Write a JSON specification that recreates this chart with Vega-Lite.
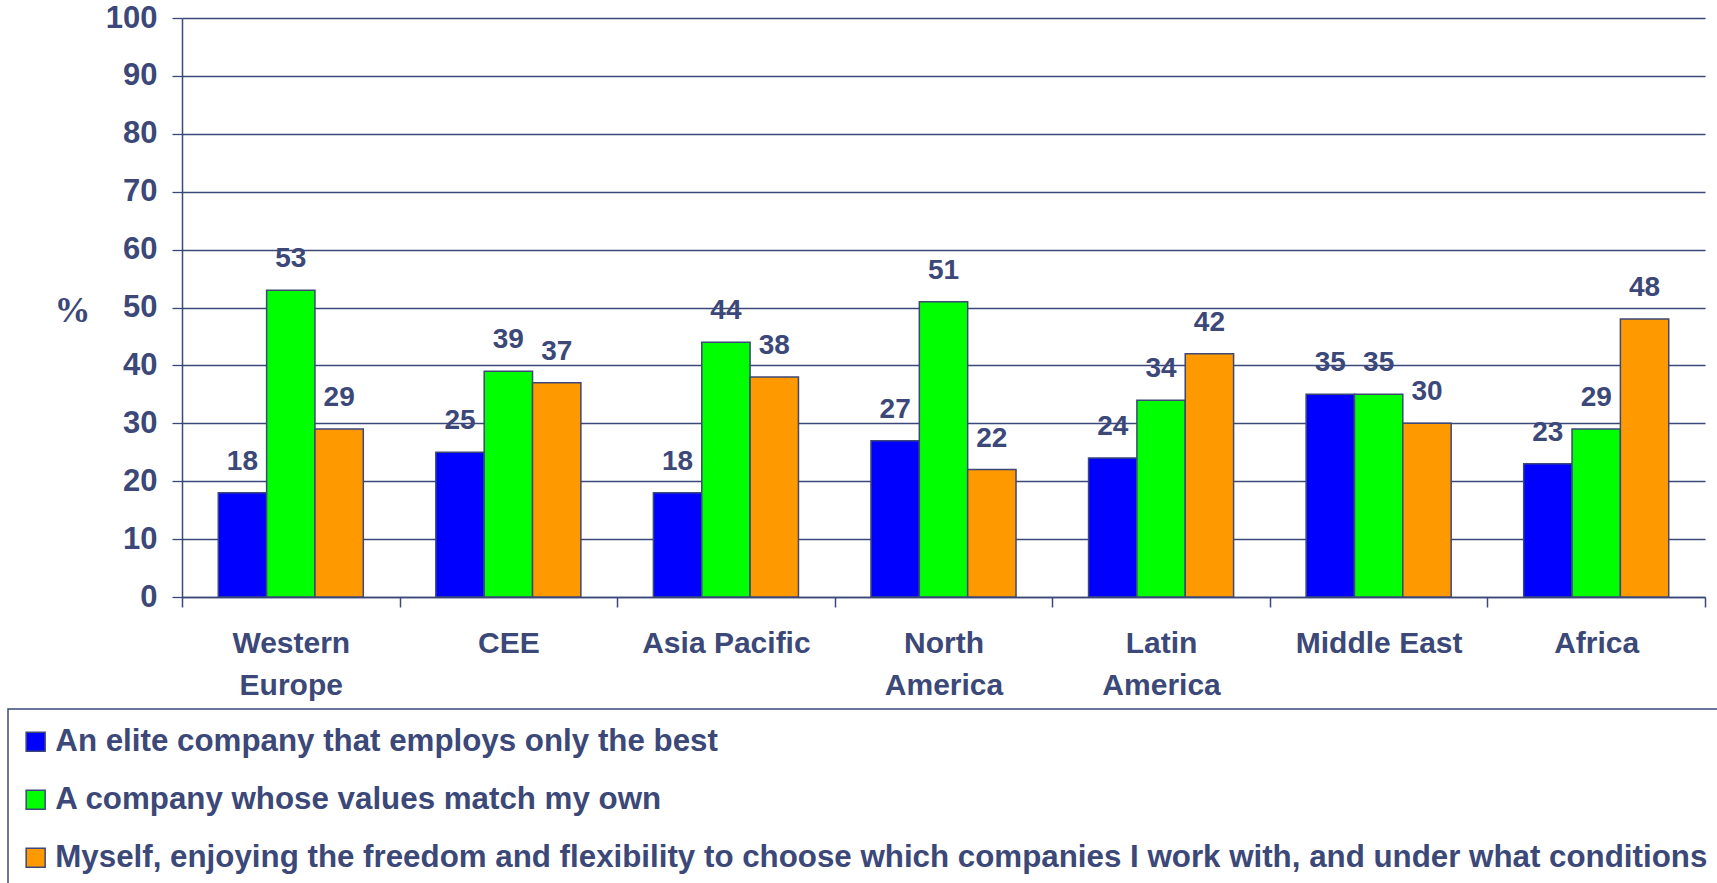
{
  "$schema": "https://vega.github.io/schema/vega-lite/v6.json",
  "autosize": "none",
  "width": 1523,
  "height": 579,
  "padding": {"left": 182, "top": 18, "right": 12, "bottom": 286},
  "background": "white",
  "config": {
    "view": {"stroke": null},
    "font": "Liberation Sans",
    "legend": {"strokeWidth": 1.5}
  },
  "data": {
    "values": [
      {"region": "Western Europe", "series": "An elite company that employs only the best", "value": 18},
      {"region": "Western Europe", "series": "A company whose values match my own", "value": 53},
      {"region": "Western Europe", "series": "Myself, enjoying the freedom and flexibility to choose which companies I work with, and under what conditions", "value": 29},
      {"region": "CEE", "series": "An elite company that employs only the best", "value": 25},
      {"region": "CEE", "series": "A company whose values match my own", "value": 39},
      {"region": "CEE", "series": "Myself, enjoying the freedom and flexibility to choose which companies I work with, and under what conditions", "value": 37},
      {"region": "Asia Pacific", "series": "An elite company that employs only the best", "value": 18},
      {"region": "Asia Pacific", "series": "A company whose values match my own", "value": 44},
      {"region": "Asia Pacific", "series": "Myself, enjoying the freedom and flexibility to choose which companies I work with, and under what conditions", "value": 38},
      {"region": "North America", "series": "An elite company that employs only the best", "value": 27},
      {"region": "North America", "series": "A company whose values match my own", "value": 51},
      {"region": "North America", "series": "Myself, enjoying the freedom and flexibility to choose which companies I work with, and under what conditions", "value": 22},
      {"region": "Latin America", "series": "An elite company that employs only the best", "value": 24},
      {"region": "Latin America", "series": "A company whose values match my own", "value": 34},
      {"region": "Latin America", "series": "Myself, enjoying the freedom and flexibility to choose which companies I work with, and under what conditions", "value": 42},
      {"region": "Middle East", "series": "An elite company that employs only the best", "value": 35},
      {"region": "Middle East", "series": "A company whose values match my own", "value": 35},
      {"region": "Middle East", "series": "Myself, enjoying the freedom and flexibility to choose which companies I work with, and under what conditions", "value": 30},
      {"region": "Africa", "series": "An elite company that employs only the best", "value": 23},
      {"region": "Africa", "series": "A company whose values match my own", "value": 29},
      {"region": "Africa", "series": "Myself, enjoying the freedom and flexibility to choose which companies I work with, and under what conditions", "value": 48}
    ]
  },
  "encoding": {
    "x": {
      "field": "region",
      "type": "nominal",
      "sort": null,
      "scale": {"paddingInner": 0, "paddingOuter": 0},
      "axis": {
        "title": null,
        "labelAngle": 0,
        "tickBand": "extent",
        "tickSize": 10,
        "tickColor": "#3b4878",
        "tickWidth": 1.5,
        "domainColor": "#3b4878",
        "domainWidth": 1.5,
        "labelFont": "Liberation Sans",
        "labelFontWeight": "bold",
        "labelFontSize": 30,
        "labelColor": "#3b4878",
        "labelPadding": 21,
        "labelLineHeight": 42,
        "labelBaseline": "top",
        "labelExpr": "datum.label == 'Western Europe' ? ['Western','Europe'] : datum.label == 'North America' ? ['North','America'] : datum.label == 'Latin America' ? ['Latin','America'] : datum.label"
      }
    },
    "xOffset": {
      "field": "series",
      "type": "nominal",
      "scale": {
        "domain": [
          "An elite company that employs only the best",
          "A company whose values match my own",
          "Myself, enjoying the freedom and flexibility to choose which companies I work with, and under what conditions"
        ],
        "paddingInner": 0,
        "paddingOuter": 0.75
      }
    },
    "y": {
      "field": "value",
      "type": "quantitative",
      "scale": {"domain": [0, 100], "nice": false},
      "axis": {
        "values": [0, 10, 20, 30, 40, 50, 60, 70, 80, 90, 100],
        "grid": true,
        "gridColor": "#3b4878",
        "gridWidth": 1.3,
        "gridOpacity": 1,
        "tickSize": 10,
        "tickColor": "#3b4878",
        "tickWidth": 1.3,
        "domainColor": "#3b4878",
        "domainWidth": 1.5,
        "labelFont": "Liberation Sans",
        "labelFontWeight": "bold",
        "labelFontSize": 31,
        "labelColor": "#3b4878",
        "labelPadding": 15,
        "title": "%",
        "titleAngle": 0,
        "titleX": -110,
        "titleY": 292,
        "titleAlign": "center",
        "titleBaseline": "middle",
        "titleFont": "Liberation Serif",
        "titleFontWeight": "bold",
        "titleFontSize": 36,
        "titleColor": "#3b4878"
      }
    }
  },
  "layer": [
    {
      "mark": {"type": "bar", "stroke": "#3b4878", "strokeWidth": 1.5},
      "encoding": {
        "color": {
          "field": "series",
          "type": "nominal",
          "scale": {
            "domain": [
              "An elite company that employs only the best",
              "A company whose values match my own",
              "Myself, enjoying the freedom and flexibility to choose which companies I work with, and under what conditions"
            ],
            "range": ["#0000ff", "#00ff00", "#ff9900"]
          },
          "legend": {
            "title": null,
            "orient": "none",
            "legendX": -174,
            "legendY": 691,
            "padding": 17,
            "strokeColor": "#3b4878",
            "fillColor": "white",
            "symbolType": "square",
            "symbolSize": 361,
            "symbolOffset": -5,
            "symbolStrokeColor": "#3b4878",
            "symbolStrokeWidth": 1.5,
            "symbolOpacity": 1,
            "labelFont": "Liberation Sans",
            "labelFontWeight": "bold",
            "labelFontSize": 31.3,
            "labelColor": "#3b4878",
            "labelLimit": 3000,
            "labelOffset": 4,
            "rowPadding": 26
          }
        }
      }
    },
    {
      "mark": {
        "type": "text",
        "dy": -31,
        "baseline": "middle",
        "align": "center",
        "font": "Liberation Sans",
        "fontWeight": "bold",
        "fontSize": 28,
        "color": "#3b4878"
      },
      "encoding": {
        "text": {"field": "value", "type": "quantitative"}
      }
    }
  ]
}
